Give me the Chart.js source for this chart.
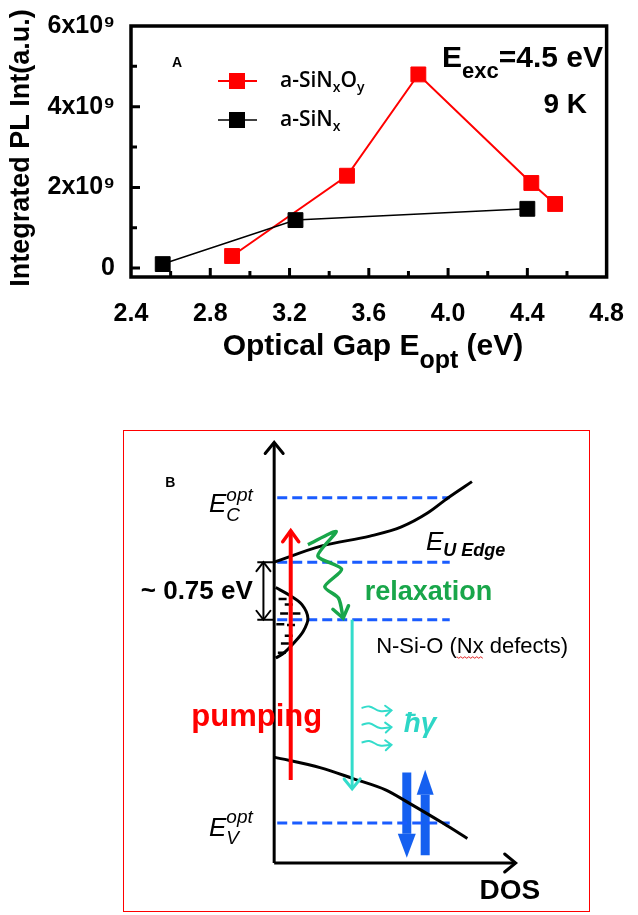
<!DOCTYPE html>
<html>
<head>
<meta charset="utf-8">
<title>PL intensity vs optical gap</title>
<script src="https://cdn.jsdelivr.net/npm/chart.js@4.4.1/dist/chart.umd.min.js"></script>
<style>
  body { margin: 0; background: #fff; }
  #page { position: relative; width: 638px; height: 915px; overflow: hidden; background: #fff; }
  #boxA { position: absolute; left: 0; top: 0; width: 638px; height: 380px; }
  #boxB { position: absolute; left: 123px; top: 430px; width: 467px; height: 482px;
          border: 1.5px solid #f00; box-sizing: border-box; }
</style>
</head>
<body>
<div id="page">
  <div id="boxA"><canvas id="plChart"></canvas></div>
  <div id="boxB"><canvas id="bandChart"></canvas></div>
</div>
<script>
const FONT = "'Liberation Sans', Arial, sans-serif";

// Panel A: integrated PL vs optical gap
const gapRed = [2.91, 3.49, 3.85, 4.42, 4.54];
const plRed = [0.30e9, 2.29e9, 4.80e9, 2.11e9, 1.59e9];
const gapBlack = [2.56, 3.23, 4.40];
const plBlack = [0.10e9, 1.19e9, 1.47e9];
const xTicks = [2.4, 2.8, 3.2, 3.6, 4.0, 4.4, 4.8];
const xMinor = [2.6, 3.0, 3.4, 3.8, 4.2, 4.6];
const yTicks = [0, 2e9, 4e9, 6e9];
const yMinor = [1e9, 3e9, 5e9];

// Panel B: band scheme (x = DOS, arb. units; y = energy in eV above E_V opt)
const dosRange = [-1.874, 4.022];
const energyRange = [-1.061, 5.025];
const levelY = [4.24, 3.40, 2.65, 0];
const levelX = [0.04, 2.29];
const axisX = [0, 3.15];
const axisY = [-0.52, 4.96];
const cbX = [0, 0.61, 1.25, 1.66, 2.0, 2.27, 2.58];
const cbY = [3.40, 3.61, 3.74, 3.86, 4.04, 4.24, 4.45];
const vbX = [0, 0.61, 1.03, 1.46, 1.76, 2.2, 2.52];
const vbY = [0.86, 0.72, 0.58, 0.43, 0.26, 0.0, -0.20];
const defX = [0.02, 0.20, 0.36, 0.44, 0.38, 0.25, 0.13, 0.02];
const defY = [3.07, 2.97, 2.85, 2.67, 2.50, 2.34, 2.22, 2.15];
const dashX = [0.11, 0.19, 0.13, 0.29, 0.08, 0.22, 0.19, 0.14, 0.10];
const dashY = [2.92, 2.85, 2.73, 2.73, 2.59, 2.58, 2.44, 2.34, 2.22];
const gapArrowX = [-0.14, -0.14];
const gapArrowY = [3.40, 2.65];
const pumpX = [0.216, 0.216];
const pumpY = [0.56, 3.81];
const relaxX = [0.44, 0.81, 0.57, 0.88, 0.66, 0.84, 0.90];
const relaxY = [3.63, 3.80, 3.48, 3.31, 3.08, 2.93, 2.67];
const emitX = [1.017, 1.017];
const emitY = [2.65, 0.445];
const waveX = [1.14, 1.24, 1.38, 1.53];
const waveY1 = [1.50, 1.52, 1.46, 1.47];
const waveY2 = [1.28, 1.30, 1.24, 1.25];
const waveY3 = [1.05, 1.07, 1.01, 1.02];
const holeDownX = [1.73, 1.73];
const holeDownY = [0.66, -0.14];
const holeUpX = [1.97, 1.97];
const holeUpY = [-0.42, 0.37];

function pts(xs, ys) {
    return xs.map((x, i) => ({ x: x, y: ys[i] }));
}

// text with sub/superscripts; a part with stack:true starts where the previous one did
function richText(ctx, parts, x, y, align) {
    const widths = parts.map(p => { ctx.font = p.f; return ctx.measureText(p.t).width; });
    let cur = 0, lastStart = 0;
    const starts = parts.map((p, i) => {
        const s = p.stack ? lastStart : cur;
        lastStart = s;
        cur = Math.max(cur, s + widths[i]);
        return s;
    });
    const x0 = align === 'center' ? x - cur / 2 : align === 'right' ? x - cur : x;
    ctx.textAlign = 'left';
    ctx.textBaseline = 'alphabetic';
    parts.forEach((p, i) => {
        ctx.font = p.f;
        ctx.fillStyle = p.c || '#000';
        ctx.fillText(p.t, x0 + starts[i], y + (p.dy || 0));
    });
    return x0;
}

const B = 'bold ';
const f = (s, w) => (w || B) + s + 'px ' + FONT;

// ---------- Panel A ----------
const panelA = {
    id: 'panelA',
    beforeDatasetsDraw(chart) {
        const { ctx, chartArea: a, scales: { x, y } } = chart;
        ctx.save();
        ctx.strokeStyle = '#000';
        ctx.lineWidth = 3.5;
        ctx.strokeRect(a.left, a.top, a.right - a.left, a.bottom - a.top);
        ctx.lineWidth = 3;
        ctx.beginPath();
        xTicks.slice(1, -1).forEach(v => {
            const p = x.getPixelForValue(v);
            ctx.moveTo(p, a.bottom); ctx.lineTo(p, a.bottom - 9);
        });
        xMinor.forEach(v => {
            const p = x.getPixelForValue(v);
            ctx.moveTo(p, a.bottom); ctx.lineTo(p, a.bottom - 6);
        });
        yTicks.slice(0, -1).forEach(v => {
            const p = y.getPixelForValue(v);
            ctx.moveTo(a.left, p); ctx.lineTo(a.left + 9, p);
        });
        yMinor.forEach(v => {
            const p = y.getPixelForValue(v);
            ctx.moveTo(a.left, p); ctx.lineTo(a.left + 6, p);
        });
        ctx.stroke();
        ctx.restore();
    },
    afterDraw(chart) {
        const ctx = chart.ctx;
        const LF = "'Open Sans', " + FONT;
        ctx.save();
        // legend
        const rows = [
            { ds: 1, y: 81, parts: [{ t: 'a-SiN', f: '600 21px ' + LF, dy: 6 }, { t: 'x', f: '600 14px ' + LF, dy: 11 },
                                    { t: 'O', f: '600 21px ' + LF, dy: 6 }, { t: 'y', f: '600 14px ' + LF, dy: 11 }] },
            { ds: 0, y: 120, parts: [{ t: 'a-SiN', f: '600 21px ' + LF, dy: 6 }, { t: 'x', f: '600 14px ' + LF, dy: 11 }] }
        ];
        rows.forEach(r => {
            const ds = chart.data.datasets[r.ds];
            ctx.strokeStyle = ds.borderColor;
            ctx.lineWidth = ds.borderWidth;
            ctx.beginPath(); ctx.moveTo(218, r.y); ctx.lineTo(257, r.y); ctx.stroke();
            ctx.fillStyle = ds.backgroundColor;
            ctx.fillRect(229, r.y - 8, 16, 16);
            richText(ctx, r.parts, 280, r.y);
        });
        richText(ctx, [{ t: 'A', f: f(14) }], 172, 67);
        richText(ctx, [{ t: 'E', f: f(30) }, { t: 'exc', f: f(22), dy: 11 }, { t: '=4.5 eV', f: f(30) }], 603, 67, 'right');
        richText(ctx, [{ t: '9 K', f: f(28) }], 587, 113, 'right');
        // axis titles
        richText(ctx, [{ t: 'Optical Gap E', f: f(30) }, { t: 'opt', f: f(25), dy: 13 }, { t: ' (eV)', f: f(30) }], 373, 355, 'center');
        ctx.translate(22, 148);
        ctx.rotate(-Math.PI / 2);
        ctx.font = f(27);
        ctx.fillStyle = '#000';
        ctx.textAlign = 'center';
        ctx.textBaseline = 'middle';
        ctx.fillText('Integrated PL Int(a.u.)', 0, 0);
        ctx.restore();
    }
};

new Chart(document.getElementById('plChart'), {
    type: 'scatter',
    data: {
        datasets: [{
            label: 'a-SiNx',
            data: pts(gapBlack, plBlack),
            showLine: true,
            borderColor: '#000',
            backgroundColor: '#000',
            borderWidth: 1.5,
            pointStyle: 'rect',
            pointRadius: 10.5,
            pointBorderWidth: 1
        }, {
            label: 'a-SiNxOy',
            data: pts(gapRed, plRed),
            showLine: true,
            borderColor: '#ff0000',
            backgroundColor: '#ff0000',
            borderWidth: 2,
            pointStyle: 'rect',
            pointRadius: 10.5,
            pointBorderWidth: 1
        }]
    },
    options: {
        responsive: true,
        maintainAspectRatio: false,
        animation: false,
        layout: { padding: { top: 26, right: 26, left: 0, bottom: 0 } },
        plugins: { legend: { display: false }, tooltip: { enabled: false } },
        scales: {
            x: {
                type: 'linear',
                min: 2.4,
                max: 4.8,
                afterBuildTicks: s => { s.ticks = xTicks.map(v => ({ value: v })); },
                afterFit: s => { s.height = 103; },
                grid: { display: false },
                border: { display: false },
                ticks: {
                    color: '#000',
                    padding: 14,
                    maxRotation: 0,
                    font: { family: FONT, size: 25, weight: 'bold' },
                    callback: v => v.toFixed(1)
                }
            },
            y: {
                min: -0.22e9,
                max: 6e9,
                afterBuildTicks: s => { s.ticks = yTicks.map(v => ({ value: v })); },
                afterFit: s => { s.width = 131; },
                grid: { display: false },
                border: { display: false },
                ticks: {
                    color: '#000',
                    padding: 8,
                    font: { family: FONT, size: 25, weight: 'bold' },
                    callback: v => v === 0 ? '0' : (v / 1e9) + 'x10\u2079'
                }
            }
        }
    },
    plugins: [panelA]
});

// ---------- Panel B ----------
const BLUE = '#1a5cff';
const line = (xs, ys, o) => Object.assign({ data: pts(xs, ys), showLine: true, pointRadius: 0, fill: false }, o);

const bandDatasets = [
    line(pumpX, pumpY, { borderColor: '#ff0000', borderWidth: 4, head: { len: 11, w: 16, lw: 3.5 } }),
    line(relaxX, relaxY, { borderColor: '#19a64a', borderWidth: 3.5, tension: 0.25, head: { len: 11, w: 16, lw: 3.5 } }),
    line(emitX, emitY, { borderColor: '#33dccb', borderWidth: 3, head: { len: 10, w: 16, lw: 3 } }),
    line(waveX, waveY1, { borderColor: '#33dccb', borderWidth: 2, tension: 0.4, head: { len: 6, w: 10, lw: 2 } }),
    line(waveX, waveY2, { borderColor: '#33dccb', borderWidth: 2, tension: 0.4, head: { len: 6, w: 10, lw: 2 } }),
    line(waveX, waveY3, { borderColor: '#33dccb', borderWidth: 2, tension: 0.4, head: { len: 6, w: 10, lw: 2 } }),
    line(cbX, cbY, { borderColor: '#000', borderWidth: 3, cubicInterpolationMode: 'monotone' }),
    line(vbX, vbY, { borderColor: '#000', borderWidth: 3, cubicInterpolationMode: 'monotone' }),
    line(defX, defY, { borderColor: '#000', borderWidth: 3, tension: 0.35 }),
    { data: pts(dashX, dashY), showLine: false, pointStyle: 'line', pointRadius: 4,
      pointBorderColor: '#000', pointBorderWidth: 2.5 },
    line(gapArrowX, gapArrowY, { borderColor: '#000', borderWidth: 2, head: { len: 9, w: 14, lw: 2, both: true } }),
    line([-0.22, 0], [gapArrowY[0], gapArrowY[0]], { borderColor: '#000', borderWidth: 2 }),
    line([-0.22, 0], [gapArrowY[1], gapArrowY[1]], { borderColor: '#000', borderWidth: 2 }),
    line([0, 0], axisY, { borderColor: '#000', borderWidth: 3, head: { len: 11, w: 18, lw: 3 } }),
    line(axisX, [axisY[0], axisY[0]], { borderColor: '#000', borderWidth: 3, head: { len: 11, w: 18, lw: 3 } }),
    ...levelY.map(v => line(levelX, [v, v], { borderColor: BLUE, borderWidth: 3, borderDash: [10, 5] })),
    line(holeDownX, holeDownY, { borderColor: '#1560f0', borderWidth: 9, head: { len: 24, w: 18, fill: true, extend: true } }),
    line(holeUpX, holeUpY, { borderColor: '#1560f0', borderWidth: 9, head: { len: 25, w: 17, fill: true, extend: true } })
];

const labelsB = [
    { x: -1.42, y: 4.38, parts: [{ t: 'B', f: f(14) }] },
    { x: -0.85, y: 4.05, parts: [{ t: 'E', f: f(26, 'italic ') }, { t: 'opt', f: f(19, 'italic '), dy: -11 },
                                 { t: 'C', f: f(19, 'italic '), dy: 9, stack: true }] },
    { x: -0.85, y: -0.165, parts: [{ t: 'E', f: f(26, 'italic ') }, { t: 'opt', f: f(19, 'italic '), dy: -13 },
                                   { t: 'V', f: f(19, 'italic '), dy: 8, stack: true }] },
    { x: 1.98, y: 3.56, parts: [{ t: 'E', f: f(26, 'italic ') }, { t: 'U Edge', f: f(18, 'italic bold '), dy: 6 }] },
    { x: -1.74, y: 2.92, parts: [{ t: '~ 0.75 eV', f: f(26) }] },
    { x: 1.18, y: 2.91, parts: [{ t: 'relaxation', f: f(27), c: '#19a64a' }] },
    { x: 1.33, y: 2.22, parts: [{ t: 'N-Si-O (Nx defects)', f: f(22, 'normal ') }], squiggle: ['N-Si-O (', 'Nx'] },
    { x: -1.08, y: 1.27, parts: [{ t: 'pumping', f: f(31), c: '#ff0000' }] },
    { x: 1.69, y: 1.19, parts: [{ t: '\u0127\u03b3', f: f(28, 'italic bold '), c: '#2ed6c6' }] },
    { x: 2.68, y: -0.99, parts: [{ t: 'DOS', f: f(28) }] }
];

function drawHead(ctx, from, to, h, color) {
    const ang = Math.atan2(to.y - from.y, to.x - from.x);
    let tx = to.x, ty = to.y;
    if (h.extend) { tx += Math.cos(ang) * h.len; ty += Math.sin(ang) * h.len; }
    ctx.save();
    ctx.translate(tx, ty);
    ctx.rotate(ang);
    ctx.beginPath();
    ctx.moveTo(-h.len, -h.w / 2);
    ctx.lineTo(0, 0);
    ctx.lineTo(-h.len, h.w / 2);
    if (h.fill) {
        ctx.closePath();
        ctx.fillStyle = color;
        ctx.fill();
    } else {
        ctx.strokeStyle = color;
        ctx.lineWidth = h.lw;
        ctx.lineCap = 'round';
        ctx.stroke();
    }
    ctx.restore();
}

const panelB = {
    id: 'panelB',
    afterDatasetsDraw(chart) {
        const ctx = chart.ctx;
        chart.data.datasets.forEach((ds, i) => {
            if (!ds.head) return;
            const p = chart.getDatasetMeta(i).data;
            const n = p.length;
            drawHead(ctx, p[n - 2], p[n - 1], ds.head, ds.borderColor);
            if (ds.head.both) drawHead(ctx, p[1], p[0], ds.head, ds.borderColor);
        });
    },
    afterDraw(chart) {
        const { ctx, scales: { x, y } } = chart;
        ctx.save();
        labelsB.forEach(l => {
            const px = x.getPixelForValue(l.x), py = y.getPixelForValue(l.y);
            const x0 = richText(ctx, l.parts, px, py);
            if (l.squiggle) {
                ctx.font = l.parts[0].f;
                const s = x0 + ctx.measureText(l.squiggle[0]).width;
                const w = ctx.measureText(l.squiggle[1]).width;
                ctx.strokeStyle = '#e02020';
                ctx.lineWidth = 1;
                ctx.beginPath();
                for (let k = 0; k <= w; k += 2) ctx.lineTo(s + k, py + 4 + (k % 4 ? 1.5 : 0));
                ctx.stroke();
            }
        });
        ctx.restore();
    }
};

new Chart(document.getElementById('bandChart'), {
    type: 'scatter',
    data: { datasets: bandDatasets },
    options: {
        responsive: true,
        maintainAspectRatio: false,
        animation: false,
        layout: { padding: 0 },
        plugins: { legend: { display: false }, tooltip: { enabled: false } },
        scales: {
            x: { type: 'linear', min: dosRange[0], max: dosRange[1], display: false },
            y: { type: 'linear', min: energyRange[0], max: energyRange[1], display: false }
        }
    },
    plugins: [panelB]
});
</script>
</body>
</html>
